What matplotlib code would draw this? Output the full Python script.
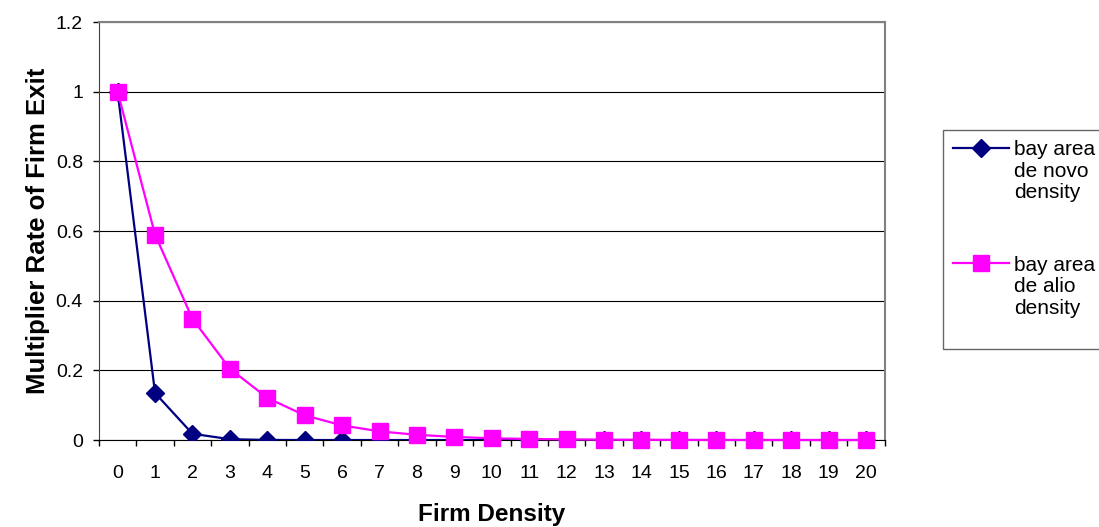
import matplotlib.pyplot as plt

plt.rcParams['font.family'] = ['Liberation Sans', 'DejaVu Sans']

# Firm density categories
density = list(range(21))

# Multiplier rate of firm exit
de_novo = [1.0, 0.135, 0.018, 0.0025, 0.0003, 0.00005, 0.0, 0.0, 0.0, 0.0, 0.0,
           0.0, 0.0, 0.0, 0.0, 0.0, 0.0, 0.0, 0.0, 0.0, 0.0]
de_alio = [1.0, 0.59, 0.348, 0.205, 0.121, 0.071, 0.042, 0.025, 0.015, 0.009, 0.005,
           0.003, 0.002, 0.001, 0.0007, 0.0004, 0.0002, 0.0001, 0.0001, 0.00005, 0.00003]

labels = ["bay area\nde novo\ndensity", "bay area\nde alio\ndensity\n "]

fig = plt.figure(figsize=(10.99, 5.27), dpi=100)
ax = fig.add_axes([0.090, 0.165, 0.715, 0.793])

ax.plot(density, de_novo, color="#000080", marker="D", markersize=9,
        linewidth=1.6, label=labels[0], zorder=3)
ax.plot(density, de_alio, color="#FF00FF", marker="s", markersize=11,
        linewidth=1.6, label=labels[1], zorder=4, clip_on=False)

ax.set_xlim(-0.5, 20.5)
ax.set_ylim(0, 1.2)
ax.set_yticks([0, 0.2, 0.4, 0.6, 0.8, 1.0, 1.2])
ax.set_yticklabels(["0", "0.2", "0.4", "0.6", "0.8", "1", "1.2"])
ax.set_xticks(density)
ax.set_xticks([x - 0.5 for x in range(22)], minor=True)
ax.tick_params(axis="x", which="major", length=0, pad=18, labelsize=14)
ax.tick_params(axis="x", which="minor", length=4.5, width=1, direction="out")
ax.tick_params(axis="y", length=4.5, width=1, direction="out", labelsize=14, pad=7)

ax.grid(axis="y", color="black", linewidth=0.8)
ax.set_axisbelow(True)
for side in ["top", "right"]:
    ax.spines[side].set_color("#808080")
    ax.spines[side].set_linewidth(1.5)
ax.spines["left"].set_color("#404040")
ax.spines["bottom"].set_color("black")

ax.set_xlabel("Firm Density", fontsize=17.5, fontweight="bold", labelpad=15)
ax.set_ylabel("Multiplier Rate of Firm Exit", fontsize=18.5, fontweight="bold", labelpad=4)

leg = fig.legend(loc="upper left", bbox_to_anchor=(943 / 1099, 1 - 130 / 527),
                 borderaxespad=0, fontsize=15, frameon=True, fancybox=False,
                 handlelength=2.65, labelspacing=2.6, borderpad=0.5,
                 handletextpad=0.25)
leg.get_frame().set_edgecolor("#404040")
leg.get_frame().set_linewidth(1)
for t in leg.get_texts():
    t.set_linespacing(1.15)
# put the marker next to the first line of each label
for col in leg._legend_handle_box.get_children():
    for row in col.get_children():
        row.align = "top"

fig.savefig("out.png", dpi=100)
